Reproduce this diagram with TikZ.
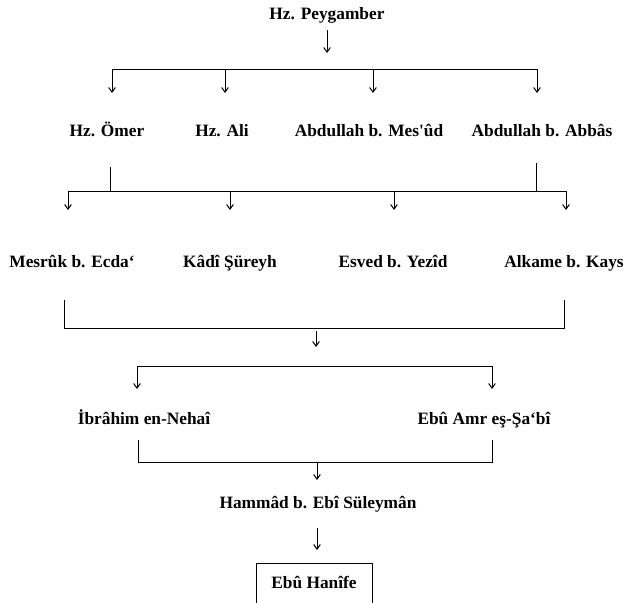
\documentclass[tikz,border=0pt]{standalone}
\usepackage{fontspec}
\setmainfont{Liberation Serif}[Ligatures=TeXOff]
\usetikzlibrary{arrows.meta}

\begin{document}
\begin{tikzpicture}
	[x=0.75pt,y=-0.75pt,line width=0.75pt,>={Straight Barb[length=3.5pt,width=5pt]},
	every node/.style={inner sep=1pt,text height=9pt,text depth=3pt,font=\bfseries\fontsize{13}{15}\selectfont}]
	\useasboundingbox (0,0) rectangle (626,603);
	\clip (0,0) rectangle (626,603);
	\node (peyg) at (327,15) {Hz. Peygamber};
	
	\node (omer) at (107,133) {Hz. Ömer};
	\node (ali) at (222,133) {Hz. Ali};
	\node (mesud) at (369,133) {Abdullah b. Mes'ûd};
	\node (abbas) at (542,133) {Abdullah b. Abbâs};
	
	\node (mesruk) at (72,263) {Mesrûk b. Ecda‘};
	\node (kadi) at (230,263) {Kâdî Şüreyh};
	\node (esved) at (393,263) {Esved b. Yezîd};
	\node (alkame) at (564,263) {Alkame b. Kays};
	
	\node (ibrahim) at (144,420) {İbrâhim en-Nehaî};
	\node (ebuamr) at (484,420) {Ebû Amr eş-Şa‘bî};
	
	\node (hammad) at (318,504) {Hammâd b. Ebî Süleymân};
	\node[draw,line width=0.75pt,minimum width=87pt,minimum height=32.25pt] (hanife) at (314,584.5) {Ebû Hanîfe};
	
	% Hz. Peygamber -> sahabe
	\draw[->] (peyg.center) ++(0,15) -- ++(0,23);
	\draw (112,69) -- (537,69);
	\foreach \n/\x in {omer/112,ali/225,mesud/373,abbas/537}
		{\coordinate (\n in) at (\x,93);
		\draw[->] (\x,69) -- (\n in);}
	
	% sahabe -> tabiun
	\draw (110,167) -- (110,191);
	\draw (536,163) -- (536,191);
	\draw (68,191) -- (566,191);
	\foreach \n/\x in {mesruk/68,kadi/230,esved/394,alkame/566}
		{\coordinate (\n in) at (\x,210);
		\draw[->] (\x,191) -- (\n in);}
	
	% tabiun -> Ibrahim, Sa'bi
	\draw (64,300) -- (64,328) -- (564,328) -- (564,300);
	\draw[->] (316,331) -- (316,347);
	\coordinate (ibrahim in) at (137,389);
	\coordinate (ebuamr in) at (492,389);
	\draw[<->] (ibrahim in) -- (137,366) -- (492,366) -- (ebuamr in);
	
	% Hammad, Ebu Hanife
	\draw (138,440) -- (138,462) -- (492,462) -- (492,440);
	\coordinate (hammad in) at (317,480);
	\draw[->] (317,462) -- (hammad in);
	\coordinate (hanife in) at (317,550);
	\draw[->] (317,528) -- (hanife in);
\end{tikzpicture}
\end{document}
